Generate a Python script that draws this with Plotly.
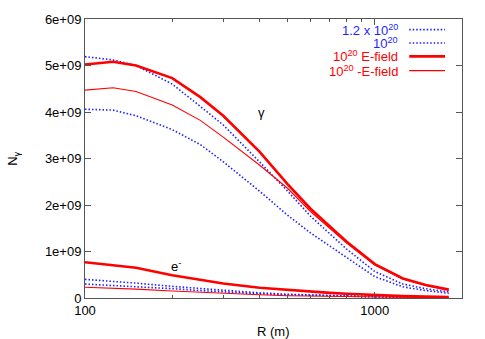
import plotly.graph_objects as go

# Distance R (m)
R = [100, 125, 150, 200, 250, 300, 400, 500, 600, 700, 800, 1000, 1250, 1500, 1800]

# Photons (gamma), in units of 1e9
g_12 = [5.19, 5.12, 5.0, 4.6, 4.12, 3.72, 2.93, 2.3, 1.76, 1.37, 1.05, 0.57, 0.3, 0.2, 0.13]
g_10 = [4.06, 4.04, 3.92, 3.62, 3.3, 2.93, 2.3, 1.78, 1.4, 1.12, 0.88, 0.46, 0.24, 0.16, 0.1]
g_E = [5.02, 5.08, 5.0, 4.73, 4.32, 3.92, 3.15, 2.45, 1.92, 1.53, 1.21, 0.73, 0.42, 0.28, 0.18]
g_mE = [4.47, 4.52, 4.44, 4.15, 3.82, 3.46, 2.86, 2.36, 1.86, 1.5, 1.18, 0.71, 0.41, 0.27, 0.17]

# Electrons (e-), in units of 1e9
e_12 = [0.40, 0.36, 0.32, 0.25, 0.2, 0.16, 0.11, 0.08, 0.065, 0.05, 0.04, 0.03, 0.02, 0.015, 0.01]
e_10 = [0.30, 0.27, 0.25, 0.2, 0.16, 0.13, 0.09, 0.07, 0.055, 0.045, 0.035, 0.025, 0.015, 0.012, 0.008]
e_E = [0.77, 0.71, 0.65, 0.49, 0.39, 0.31, 0.22, 0.17, 0.14, 0.11, 0.09, 0.06, 0.04, 0.03, 0.02]
e_mE = [0.23, 0.21, 0.19, 0.15, 0.12, 0.10, 0.07, 0.05, 0.04, 0.035, 0.03, 0.02, 0.015, 0.01, 0.008]

y_ticks = [0, 1e9, 2e9, 3e9, 4e9, 5e9, 6e9]
y_tick_labels = ["0", "1e+09", "2e+09", "3e+09", "4e+09", "5e+09", "6e+09"]
x_ticks = [100, 1000]
x_tick_labels = ["100", "1000"]
x_minor = [200, 300, 400, 500, 600, 700, 800, 900, 2000]

legend_labels = ["1.2 x 10<sup>20</sup>", "10<sup>20</sup>", "10<sup>20</sup> E-field", "10<sup>20</sup> -E-field"]

BLUE = "#1f1fff"
RED = "#ff0000"
DOT = "1.5px,2px"
styles = [
    dict(color=BLUE, width=1.6, dash=DOT),
    dict(color=BLUE, width=1.6, dash=DOT),
    dict(color=RED, width=2.6, dash="solid"),
    dict(color=RED, width=1.1, dash="solid"),
]

def scale(v):
    return [a * 1e9 for a in v]

fig = go.Figure()
for series, st in zip([g_12, g_10, g_E, g_mE], styles):
    fig.add_trace(go.Scatter(x=R, y=scale(series), mode="lines", line=st, showlegend=False))
for series, st in zip([e_12, e_10, e_E, e_mE], styles):
    fig.add_trace(go.Scatter(x=R, y=scale(series), mode="lines", line=st, showlegend=False))

FONT = "Liberation Sans, Arial, sans-serif"
AX = "#555555"

annotations = []
shapes = []
leg_y = [0.962, 0.914, 0.866, 0.815]
for lbl, st, ly in zip(legend_labels, styles, leg_y):
    annotations.append(dict(xref="paper", yref="paper", x=0.835, y=ly, text=lbl,
                            showarrow=False, xanchor="right", yanchor="middle",
                            font=dict(family=FONT, size=13, color=st["color"])))
    shapes.append(dict(type="line", xref="paper", yref="paper", x0=0.86, x1=0.955, y0=ly, y1=ly,
                       line=dict(color=st["color"], width=st["width"], dash=st["dash"])))

annotations.append(dict(x=2.61, y=(298 - 111) / 47 * 1e9, xref="x", yref="y", text="γ",
                        showarrow=False, font=dict(family=FONT, size=13, color="black")))
annotations.append(dict(x=2.314, y=(298 - 266) / 47 * 1e9, xref="x", yref="y", text="e<sup>-</sup>",
                        showarrow=False, font=dict(family=FONT, size=13, color="black")))
annotations.append(dict(xref="paper", yref="paper", x=-0.19, y=0.5, text="N<sub>γ</sub>",
                        textangle=-90, showarrow=False, xanchor="center", yanchor="middle",
                        font=dict(family=FONT, size=13, color="black")))
annotations.append(dict(xref="paper", yref="paper", x=0.5, y=-0.12, text="R (m)",
                        showarrow=False, xanchor="center", yanchor="middle",
                        font=dict(family=FONT, size=13, color="black")))

fig.update_layout(
    width=485, height=339,
    margin=dict(l=85, r=23, t=16, b=41),
    paper_bgcolor="white", plot_bgcolor="white",
    font=dict(family=FONT, size=13, color="black"),
    annotations=annotations, shapes=shapes,
    xaxis=dict(type="log", range=[2, 3.301], tickvals=x_ticks, ticktext=x_tick_labels,
               ticks="inside", ticklen=6, tickcolor=AX, showline=True, linecolor=AX, linewidth=1,
               mirror="ticks", showgrid=False, zeroline=False,
               minor=dict(tickvals=x_minor, ticks="inside", ticklen=3, tickcolor=AX, showgrid=False),
               tickfont=dict(family=FONT, size=13)),
    yaxis=dict(range=[0, 6e9], tickvals=y_ticks, ticktext=y_tick_labels,
               ticks="inside", ticklen=6, tickcolor=AX, showline=True, linecolor=AX, linewidth=1,
               mirror="ticks", showgrid=False, zeroline=False,
               tickfont=dict(family=FONT, size=13)),
)

fig.write_html("out.html", config={"displayModeBar": False},
               post_script="document.body.style.margin='0';document.body.style.padding='0';")
